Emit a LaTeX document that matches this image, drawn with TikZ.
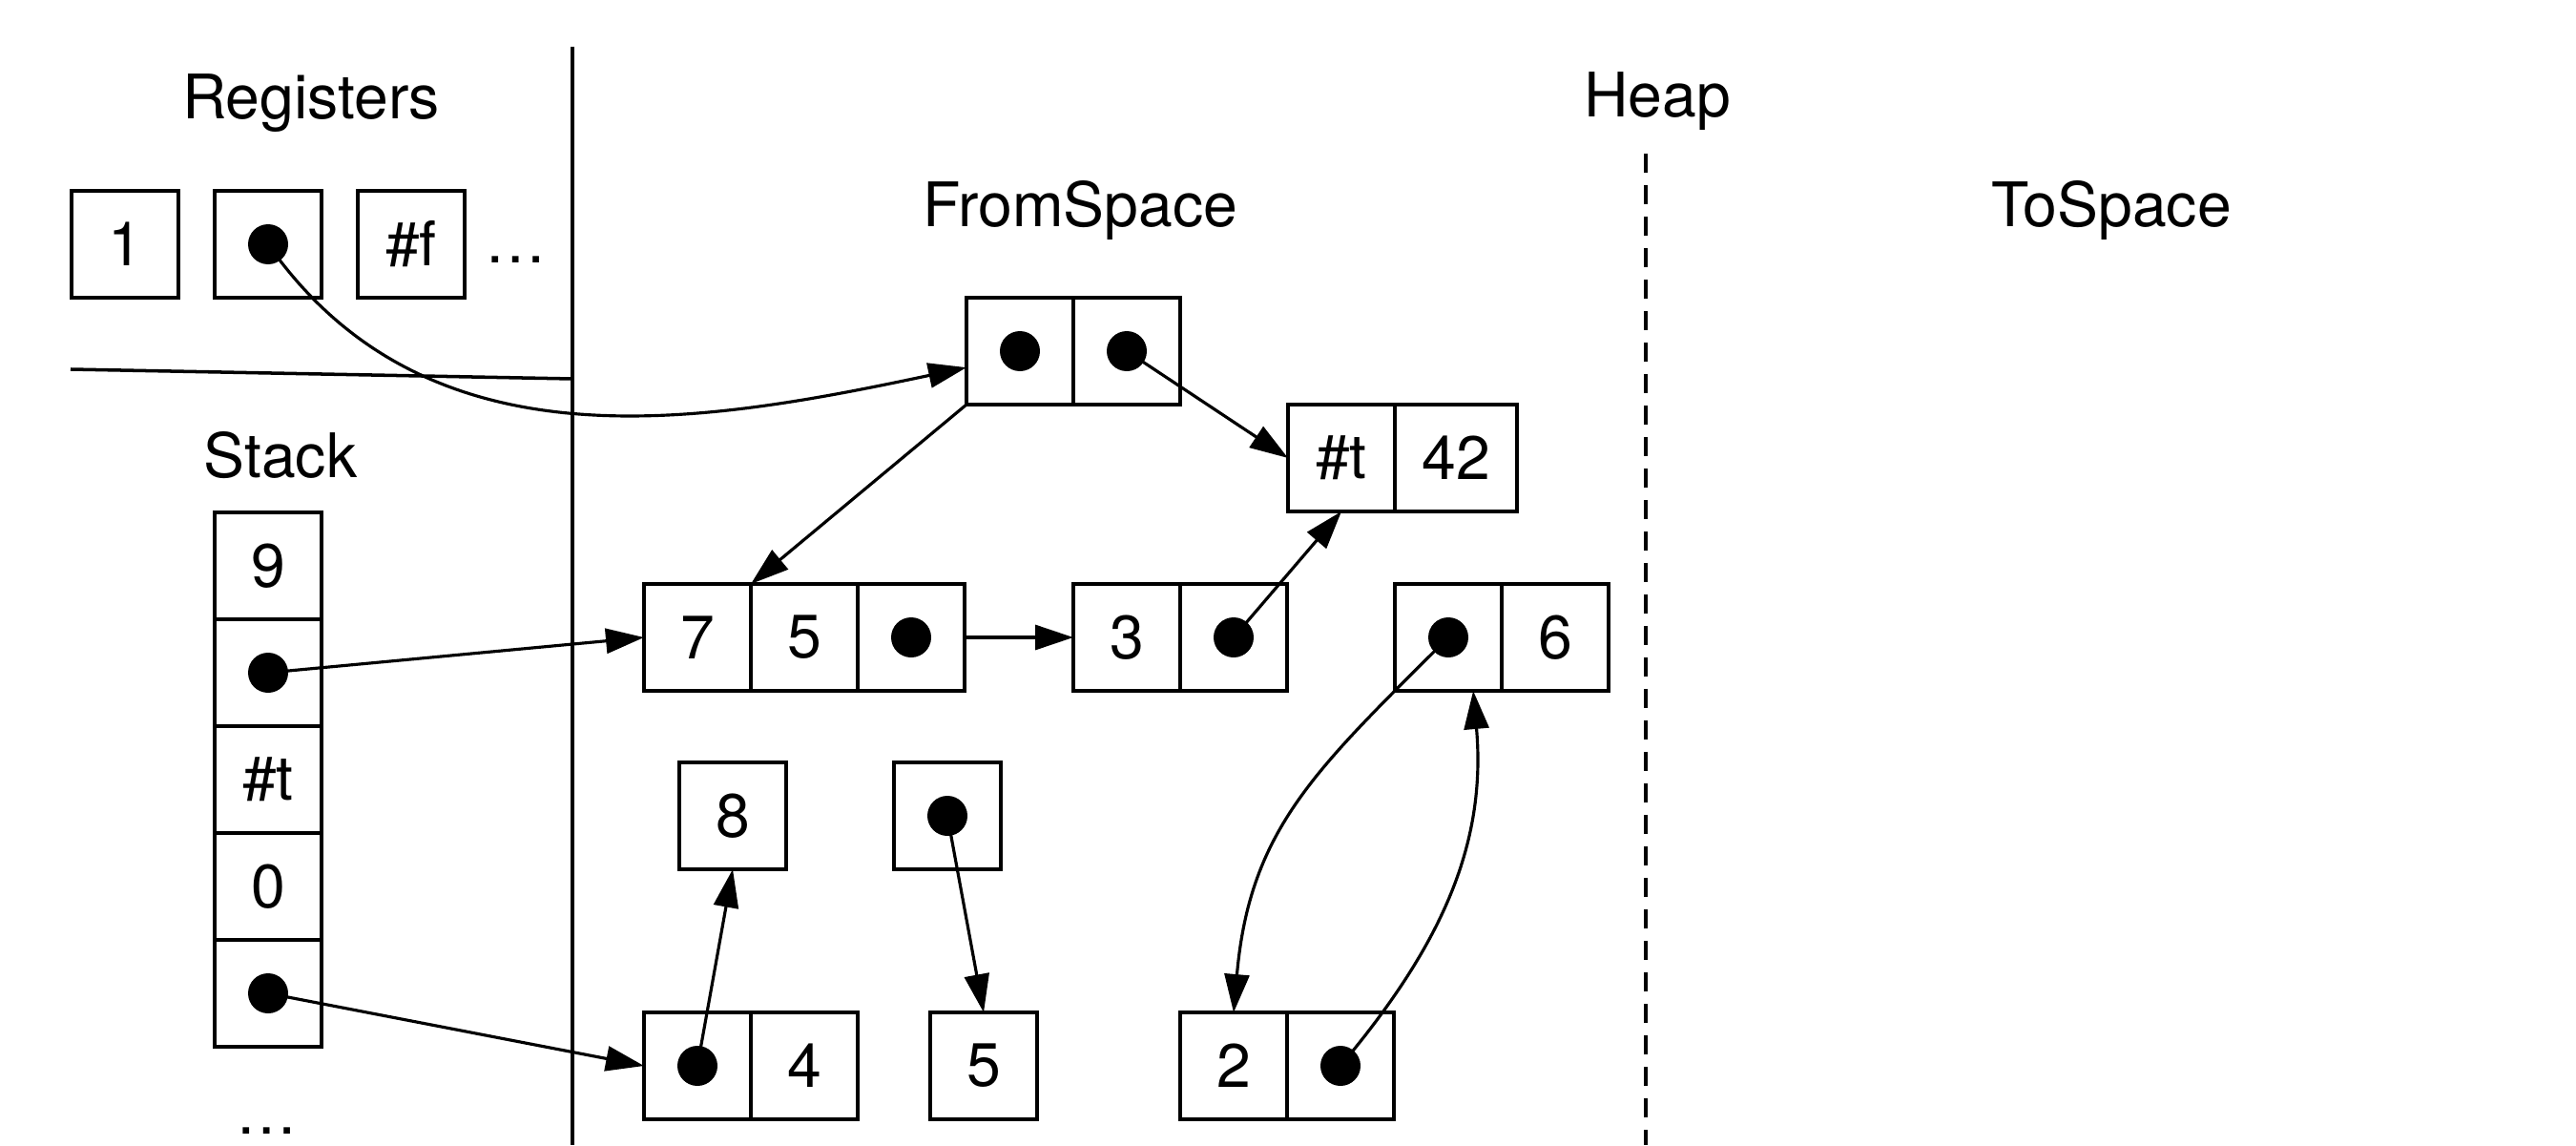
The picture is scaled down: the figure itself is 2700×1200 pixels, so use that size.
\documentclass[tikz,border=0pt]{standalone}
\usepackage{fontspec}
\setmainfont{TeX Gyre Heros}
\usetikzlibrary{arrows.meta, positioning}

\begin{document}
\begin{tikzpicture}[
    x=0.1mm, y=0.1mm,
    every node/.style={font=\fontsize{18.3}{21}\selectfont},
    cell/.style={draw, line width=1pt, minimum width=11.2mm, minimum height=11.2mm,
                 inner sep=0pt, outer sep=0pt},
    refcell/.style={cell, path picture={\fill (path picture bounding box.center) circle (2.1mm);}},
    link/.style={draw, line width=0.9pt, -{Triangle[length=4mm, width=2.6mm]}},
    title/.style={inner sep=0pt, anchor=base},
  ]
  \useasboundingbox (0,0) rectangle (2700,-1200);

  % dividers
  \draw[line width=1.1pt] (600,-49) -- (600,-1200);
  \draw[line width=1pt] (74,-387) -- (600,-397);
  \draw[line width=1pt, dash pattern=on 2mm off 1.3mm] (1725,-161) -- (1725,-1200);

  % headings
  \node[title] (regs)  at (326,-125)  {Registers};
  \node[title] (stack) at (294,-500)  {Stack};
  \node[title] (heap)  at (1737,-123) {Heap};
  \node[title] (from)  at (1132,-237) {FromSpace};
  \node[title] (to)    at (2213,-238) {ToSpace};

  % registers
  \node[cell]    (r1) at (131,-256) {1};
  \node[refcell] (r2) at (281,-256) {};
  \node[cell]    (r3) at (431,-256) {\#f};
  \node[title] (rmore) at (541,-275) {…};

  % stack
  \node[cell]    (s1) at (281,-593) {9};
  \node[refcell] (s2) [below=0pt of s1] {};
  \node[cell]    (s3) [below=0pt of s2] {\#t};
  \node[cell]    (s4) [below=0pt of s3] {0};
  \node[refcell] (s5) [below=0pt of s4] {};
  \node[title] (smore) at (280,-1188) {…};

  % from-space objects
  \node[refcell] (p1) at (1069,-368) {};
  \node[refcell] (p2) [right=0pt of p1] {};
  \node[cell]    (t1) at (1406,-480) {\#t};
  \node[cell, minimum width=12.8mm] (t2) [right=0pt of t1] {42};
  \node[cell]    (v7) at (731,-668) {7};
  \node[cell]    (v5) [right=0pt of v7] {5};
  \node[refcell] (vd) [right=0pt of v5] {};
  \node[cell]    (w3) at (1181,-668) {3};
  \node[refcell] (wd) [right=0pt of w3] {};
  \node[refcell] (xd) at (1518,-668) {};
  \node[cell]    (x6) [right=0pt of xd] {6};
  \node[cell]    (e8) at (768,-855) {8};
  \node[refcell] (ed) at (993,-855) {};
  \node[refcell] (f4d) at (731,-1117) {};
  \node[cell]    (f4) [right=0pt of f4d] {4};
  \node[cell]    (g5) at (1031,-1117) {5};
  \node[cell]    (h2) at (1293,-1117) {2};
  \node[refcell] (hd) [right=0pt of h2] {};

  % pointers
  \draw[link] (r2.center) to[out=-55, in=192] (p1.197);
  \draw[link] (s2.center) -- (v7.west);
  \draw[link] (s5.center) -- (f4d.west);
  \draw[link] (p1.south west) -- (v5.north west);
  \draw[link] (p2.center) -- (t1.west);
  \draw[link] (vd.east) -- (w3.west);
  \draw[link] (wd.center) -- (t1.south);
  \draw[link] (xd.center) to[out=225, in=85, looseness=1.1] (h2.north);
  \draw[link] (hd.center) to[out=50, in=-85] (xd.-65);
  \draw[link] (f4d.center) -- (e8.south);
  \draw[link] (ed.center) -- (g5.north);
\end{tikzpicture}
\end{document}
